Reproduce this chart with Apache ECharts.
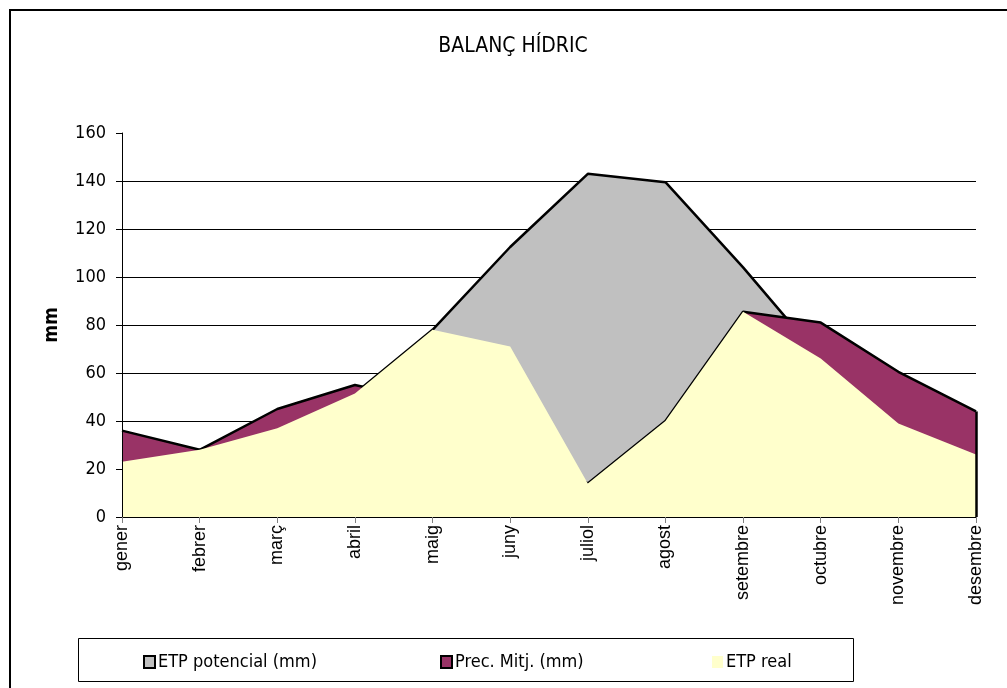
<!DOCTYPE html>
<html>
<head>
<meta charset="utf-8">
<script src="https://cdn.jsdelivr.net/npm/echarts@6/dist/echarts.min.js"></script>
<style>html,body{margin:0;padding:0;background:#fff}#c{width:1007px;height:688px}</style>
</head>
<body>
<div id="c"></div>
<script>
const months = ['gener','febrer','març','abril','maig','juny','juliol','agost','setembre','octubre','novembre','desembre'];
const etpPotencial = [23, 28, 37, 51.5, 78, 112.5, 143, 139.5, 104, 66, 39, 26];
const precMitj = [36, 28, 45, 55, 48, 31, 14, 40, 85.5, 81, 60.5, 44];
const etpReal = [23, 28, 37, 51.5, 78, 71, 14, 40, 85.5, 66, 39, 26];
const yTicks = [0, 20, 40, 60, 80, 100, 120, 140, 160];

const NARROW = "'Liberation Sans Narrow','Arial Narrow','DejaVu Sans Condensed',sans-serif";
const SANS = "'Liberation Sans',Arial,sans-serif";

const chart = echarts.init(document.getElementById('c'), null, {renderer: 'canvas'});
const yMin = yTicks[0], yMax = yTicks[yTicks.length - 1], yStep = yTicks[1] - yTicks[0];

function legendItem(name, left, color, border) {
  return {
    data: [name], left: left, top: 653, orient: 'horizontal', padding: 0,
    icon: 'rect', itemWidth: 11, itemHeight: 12, itemGap: 6,
    selectedMode: false,
    itemStyle: border ? {color: color, borderColor: '#000', borderWidth: 2} : {color: color, borderWidth: 0},
    textStyle: {fontFamily: NARROW, fontSize: 18, color: '#000', padding: [0, 0, 0, -2]}
  };
}

chart.setOption({
  animation: false,
  backgroundColor: '#fff',
  title: {
    text: 'BALANÇ HÍDRIC', left: 513, top: 36, textAlign: 'center', padding: 0,
    textStyle: {fontFamily: NARROW, fontSize: 21, fontWeight: 'normal', color: '#000'}
  },
  graphic: [
    {type: 'rect', shape: {x: 10, y: 10, width: 1010, height: 700}, style: {fill: 'none', stroke: '#000', lineWidth: 2}, silent: true, z: 100},
    {type: 'rect', shape: {x: 78.5, y: 638.5, width: 775, height: 43}, style: {fill: 'none', stroke: '#000', lineWidth: 1}, silent: true, z: 100}
  ],
  legend: [
    legendItem('ETP potencial (mm)', 143, '#C0C0C0', true),
    legendItem('Prec. Mitj. (mm)', 440, '#993366', true),
    legendItem('ETP real', 712, '#FFFFCC', false)
  ],
  grid: {left: 122, right: 31, top: 133, bottom: 171, containLabel: false},
  xAxis: {
    type: 'category', data: months, boundaryGap: false, z: 10,
    axisLine: {show: true, lineStyle: {color: '#000', width: 1}},
    axisTick: {show: true, length: 6, alignWithLabel: true, lineStyle: {color: '#808080'}},
    axisLabel: {rotate: 90, margin: 8, fontFamily: SANS, fontSize: 18, color: '#000', interval: 0},
    splitLine: {show: false}
  },
  yAxis: [
    {
      type: 'value', min: yMin, max: yMax, interval: yStep, position: 'left',
      name: 'mm', nameLocation: 'middle', nameGap: 60, nameRotate: 90,
      nameTextStyle: {fontFamily: NARROW, fontSize: 19, fontWeight: 'bold', color: '#000'},
      axisLine: {show: false}, axisTick: {show: false},
      axisLabel: {margin: 16, fontFamily: NARROW, fontSize: 18, color: '#000'},
      splitLine: {show: true, showMaxLine: false, lineStyle: {color: '#000', width: 1}}
    },
    {
      type: 'value', min: yMin, max: yMax, interval: yStep, position: 'left', z: 10,
      axisLine: {show: true, onZero: false, lineStyle: {color: '#000', width: 1}},
      axisTick: {show: true, length: 6, lineStyle: {color: '#000'}},
      axisLabel: {show: false}, splitLine: {show: false}
    }
  ],
  series: [
    {
      name: 'ETP potencial (mm)', type: 'line', data: etpPotencial, z: 2,
      symbol: 'none', smooth: false,
      itemStyle: {color: '#C0C0C0'},
      lineStyle: {color: '#000', width: 2.5},
      areaStyle: {color: '#C0C0C0', opacity: 1}
    },
    {
      name: 'Prec. Mitj. (mm)', type: 'line', data: precMitj, z: 3,
      symbol: 'none', smooth: false,
      itemStyle: {color: '#993366'},
      lineStyle: {color: '#000', width: 2.5},
      areaStyle: {color: '#993366', opacity: 1},
      markLine: {
        silent: true, symbol: 'none', label: {show: false},
        lineStyle: {color: '#000', width: 2.5, type: 'solid'},
        data: [[{coord: [months.length - 1, 0]}, {coord: [months.length - 1, precMitj[precMitj.length - 1]]}]]
      }
    },
    {
      name: 'ETP real', type: 'line', data: etpReal, z: 4,
      symbol: 'none', smooth: false,
      itemStyle: {color: '#FFFFCC'},
      lineStyle: {width: 0, opacity: 0},
      areaStyle: {color: '#FFFFCC', opacity: 1}
    }
  ]
});
</script>
</body>
</html>
